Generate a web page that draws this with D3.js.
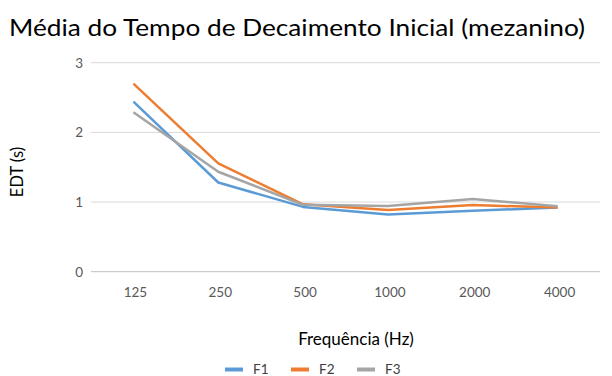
<!DOCTYPE html>
<html>
<head>
<meta charset="utf-8">
<script src="https://cdn.jsdelivr.net/npm/d3@7"></script>
<style>
  body { margin: 0; background: #fff; }
  text { font-family: Lato, "Open Sans", sans-serif; fill: #404040; }
</style>
</head>
<body>
<svg id="chart" width="612" height="376"></svg>
<script>
// frequency bands (Hz)
const categories = ["125", "250", "500", "1000", "2000", "4000"];
// EDT per position
const f1 = [2.44, 1.28, 0.93, 0.82, 0.875, 0.92];
const f2 = [2.70, 1.555, 0.967, 0.885, 0.957, 0.92];
const f3 = [2.29, 1.435, 0.96, 0.943, 1.043, 0.94];
const seriesNames = ["F1", "F2", "F3"];
const yTicks = [0, 1, 2, 3];

const colors = ["#5B9BD5", "#ED7D31", "#A5A5A5"];
const series = [f1, f2, f3];

let margin = ({top: 62.7, right: 12, bottom: 104.3, left: 91});
let width = 612, height = 376;

let svg = d3.select("#chart");

let x = d3.scaleBand()
  .domain(categories)
  .range([margin.left, width - margin.right]);

let y = d3.scaleLinear()
  .domain([0, 3])
  .range([height - margin.bottom, margin.top]);

// gridlines
svg.append("g")
  .selectAll("line")
  .data(yTicks.filter(d => d > 0))
  .enter()
  .append("line")
  .attr("x1", margin.left)
  .attr("x2", width - margin.right)
  .attr("y1", d => y(d))
  .attr("y2", d => y(d))
  .attr("stroke", "#d9d9d9")
  .attr("stroke-width", 1);

// x axis line
svg.append("line")
  .attr("x1", margin.left)
  .attr("x2", width - margin.right)
  .attr("y1", y(0))
  .attr("y2", y(0))
  .attr("stroke", "#bfbfbf")
  .attr("stroke-width", 1);

// y tick labels
svg.append("g")
  .selectAll("text")
  .data(yTicks)
  .enter()
  .append("text")
  .attr("x", 83)
  .attr("y", d => y(d) + 5)
  .attr("text-anchor", "end")
  .style("font-size", "13.5px")
  .style("fill", "#595959")
  .text(d => d);

// x tick labels
svg.append("g")
  .selectAll("text")
  .data(categories)
  .enter()
  .append("text")
  .attr("x", d => x(d) + x.bandwidth() / 2 + 2)
  .attr("y", 296.5)
  .attr("text-anchor", "middle")
  .style("font-size", "13.5px")
  .style("fill", "#595959")
  .text(d => d);

// lines
let line = d3.line()
  .x((d, i) => x(categories[i]) + x.bandwidth() / 2)
  .y(d => y(d));

svg.append("g")
  .selectAll("path")
  .data(series)
  .enter()
  .append("path")
  .attr("d", d => line(d))
  .attr("fill", "none")
  .attr("stroke", (d, i) => colors[i])
  .attr("stroke-width", 2.5)
  .attr("stroke-linejoin", "round");

// title
svg.append("text")
  .attr("x", 9)
  .attr("y", 35.5)
  .style("font-size", "23px")
  .style("fill", "#000")
  .attr("textLength", 576)
  .attr("lengthAdjust", "spacingAndGlyphs")
  .text("Média do Tempo de Decaimento Inicial (mezanino)");

// axis titles
svg.append("text")
  .attr("transform", "translate(23,172) rotate(-90)")
  .attr("text-anchor", "middle")
  .style("font-size", "16.5px")
  .style("fill", "#000")
  .text("EDT (s)");

svg.append("text")
  .attr("x", 356)
  .attr("y", 345)
  .attr("text-anchor", "middle")
  .style("font-size", "17px")
  .style("fill", "#000")
  .text("Frequência (Hz)");

// legend
let legendX = [225, 291, 357];
let legend = svg.append("g");
legend.selectAll("line")
  .data(seriesNames)
  .enter()
  .append("line")
  .attr("x1", (d, i) => legendX[i])
  .attr("x2", (d, i) => legendX[i] + 18)
  .attr("y1", 369.5)
  .attr("y2", 369.5)
  .attr("stroke", (d, i) => colors[i])
  .attr("stroke-width", 4);
legend.selectAll("text")
  .data(seriesNames)
  .enter()
  .append("text")
  .attr("x", (d, i) => legendX[i] + 28)
  .attr("y", 373.5)
  .style("font-size", "13.5px")
  .style("fill", "#404040")
  .text(d => d);
</script>
</body>
</html>
